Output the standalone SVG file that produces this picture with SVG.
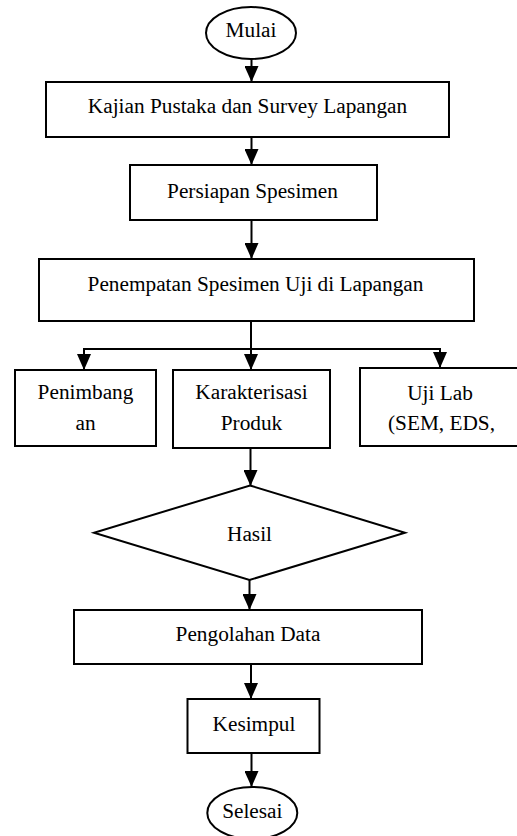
<svg xmlns="http://www.w3.org/2000/svg" width="517" height="836" viewBox="0 0 517 836">
<style>
.shape{fill:#fff;stroke:#000;stroke-width:2}
.lbl{font-family:"Liberation Serif","Times New Roman",serif;font-size:21.3px;fill:#000;text-anchor:middle}
.conn{fill:none;stroke:#000;stroke-width:2}
</style>
<defs>
<marker id="arr" markerUnits="userSpaceOnUse" markerWidth="16" markerHeight="14" refX="16" refY="7" orient="auto" viewBox="0 0 16 14">
<path d="M0,0 L16,7 L0,14 z" fill="#000"/>
</marker>
</defs>
<rect width="517" height="836" fill="#fff"/>
<g id="connectors">
<line class="conn" x1="251.5" y1="59" x2="251.5" y2="82" marker-end="url(#arr)"/>
<line class="conn" x1="251.5" y1="137" x2="251.5" y2="165" marker-end="url(#arr)"/>
<line class="conn" x1="251.5" y1="220" x2="251.5" y2="259" marker-end="url(#arr)"/>
<line class="conn" x1="251" y1="321" x2="251" y2="349"/>
<line class="conn" x1="83" y1="349" x2="440" y2="349"/>
<line class="conn" x1="84" y1="348" x2="84" y2="370" marker-end="url(#arr)"/>
<line class="conn" x1="251" y1="348" x2="251" y2="370" marker-end="url(#arr)"/>
<line class="conn" x1="440" y1="348" x2="440" y2="368" marker-end="url(#arr)"/>
<line class="conn" x1="250.5" y1="448" x2="250.5" y2="486" marker-end="url(#arr)"/>
<line class="conn" x1="249.5" y1="580" x2="249.5" y2="610" marker-end="url(#arr)"/>
<line class="conn" x1="251" y1="664" x2="251" y2="699" marker-end="url(#arr)"/>
<line class="conn" x1="251.5" y1="753" x2="251.5" y2="787" marker-end="url(#arr)"/>
</g>
<g id="mulai">
<ellipse class="shape" cx="251" cy="33" rx="45" ry="26"/>
<text class="lbl" x="251" y="37">Mulai</text>
</g>
<g id="kajian">
<rect class="shape" x="46" y="82" width="403" height="55"/>
<text class="lbl" x="247.5" y="113">Kajian Pustaka dan Survey Lapangan</text>
</g>
<g id="persiapan">
<rect class="shape" x="130" y="165" width="247" height="55"/>
<text class="lbl" x="252.5" y="198">Persiapan Spesimen</text>
</g>
<g id="penempatan">
<rect class="shape" x="39" y="259" width="435" height="62"/>
<text class="lbl" x="255.5" y="291">Penempatan Spesimen Uji di Lapangan</text>
</g>
<g id="penimbangan">
<rect class="shape" x="15" y="370" width="141" height="76"/>
<text class="lbl" x="85.5" y="399">Penimbang</text>
<text class="lbl" x="85.5" y="430">an</text>
</g>
<g id="karakterisasi">
<rect class="shape" x="173" y="370" width="157" height="78"/>
<text class="lbl" x="251.5" y="399">Karakterisasi</text>
<text class="lbl" x="251.5" y="430">Produk</text>
</g>
<g id="ujilab">
<rect class="shape" x="360" y="368" width="162" height="78"/>
<text class="lbl" x="440" y="400">Uji Lab</text>
<text class="lbl" x="441.5" y="430">(SEM, EDS,</text>
</g>
<g id="hasil">
<polygon class="shape" points="250,485.5 405,532.7 249.5,580 94,532.7"/>
<text class="lbl" x="249.5" y="540.5">Hasil</text>
</g>
<g id="pengolahan">
<rect class="shape" x="74" y="610" width="348" height="54"/>
<text class="lbl" x="248" y="641">Pengolahan Data</text>
</g>
<g id="kesimpul">
<rect class="shape" x="187.5" y="699" width="132" height="54"/>
<text class="lbl" x="254" y="731">Kesimpul</text>
</g>
<g id="selesai">
<ellipse class="shape" cx="252.3" cy="813" rx="45" ry="26"/>
<text class="lbl" x="252.3" y="817.5">Selesai</text>
</g>
</svg>
